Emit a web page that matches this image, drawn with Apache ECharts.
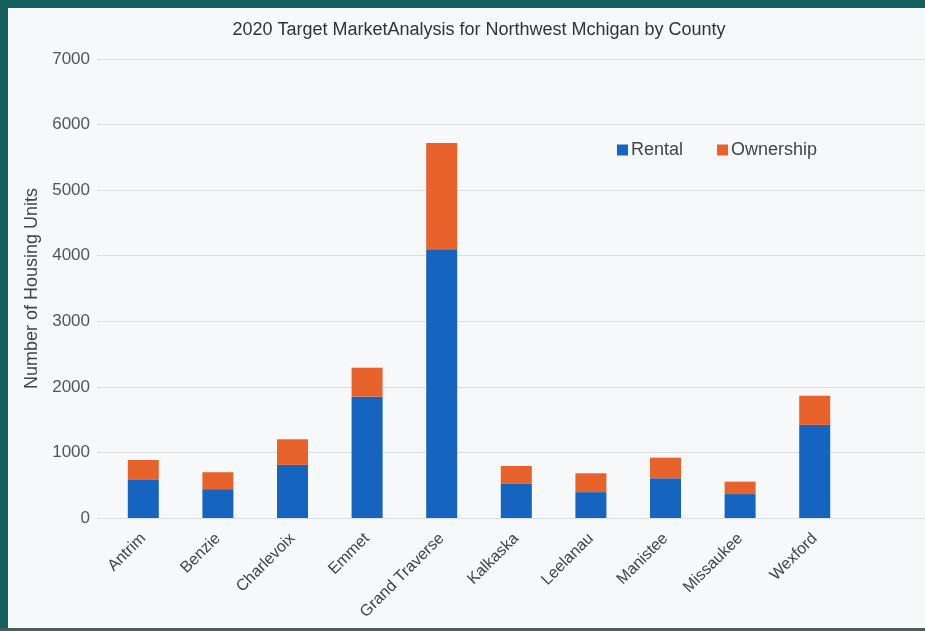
<!DOCTYPE html>
<html>
<head>
<meta charset="utf-8">
<script src="https://cdn.jsdelivr.net/npm/echarts@6/dist/echarts.min.js"></script>
<style>
html,body{margin:0;padding:0;background:#15605f;}
#frame{position:absolute;left:8px;top:8px;width:917px;height:620px;background:#f6f8fa;}
#bottomline{position:absolute;left:0;top:628px;width:925px;height:3px;background:#4a5a60;}
#chart{position:absolute;left:0;top:0;width:925px;height:631px;}
</style>
</head>
<body>
<div id="frame"></div>
<div id="bottomline"></div>
<div id="chart"></div>
<script>
const titleText = "2020 Target MarketAnalysis for Northwest Mchigan by County";
const categories = ["Antrim","Benzie","Charlevoix","Emmet","Grand Traverse","Kalkaska","Leelanau","Manistee","Missaukee","Wexford"];
const rental = [580, 440, 810, 1850, 4100, 520, 395, 605, 365, 1420];
const ownership = [305, 258, 390, 442, 1620, 273, 287, 315, 190, 445];
const yTicks = [0, 1000, 2000, 3000, 4000, 5000, 6000, 7000];
const seriesNames = ["Rental", "Ownership"];
const yAxisName = "Number of Housing Units";

const chart = echarts.init(document.getElementById('chart'), null, {renderer:'canvas'});
const font = "'Liberation Sans', Arial, sans-serif";
chart.setOption({
  backgroundColor: 'transparent',
  animation: false,
  title: {
    text: titleText, left: 474, top: 16, textAlign: 'center',
    textStyle: {fontFamily: font, fontSize: 18, fontWeight: 'normal', color: '#333'}
  },
  legend: {
    data: seriesNames, left: 612, top: 136, itemWidth: 11, itemHeight: 11, itemGap: 34,
    icon: 'rect',
    textStyle: {fontFamily: font, fontSize: 18, color: '#444', padding: [0,0,0,-2]}
  },
  grid: [
    {left: 106, right: 73, top: 59, bottom: 113},
    {left: 97, right: 0, top: 59, bottom: 113}
  ],
  xAxis: [
    {
      type: 'category', data: categories, gridIndex: 0,
      axisLine: {show: false}, axisTick: {show: false},
      axisLabel: {rotate: 45, interval: 0, margin: 18, fontFamily: font, fontSize: 16, color: '#444'}
    },
    {type: 'value', gridIndex: 1, min: 0, max: 1, show: false}
  ],
  yAxis: [
    {
      type: 'value', gridIndex: 0, min: yTicks[0], max: yTicks[yTicks.length-1], interval: 1000,
      name: yAxisName, nameLocation: 'middle', nameGap: 57,
      nameTextStyle: {fontFamily: font, fontSize: 18, color: '#444'},
      axisLine: {show: false}, axisTick: {show: false},
      splitLine: {show: false},
      axisLabel: {fontFamily: font, fontSize: 17, color: '#555', margin: 16,
                  formatter: v => String(v)}
    },
    {
      type: 'value', gridIndex: 1, min: 0, max: 7000, interval: 1000,
      axisLine: {show: false}, axisTick: {show: false}, axisLabel: {show: false},
      splitLine: {lineStyle: {color: '#dcdfe2', width: 1}}
    }
  ],
  series: [
    {name: seriesNames[0], type: 'bar', stack: 'a', data: rental, barWidth: 31,
     itemStyle: {color: '#1565c0'}},
    {name: seriesNames[1], type: 'bar', stack: 'a', data: ownership, barWidth: 31,
     itemStyle: {color: '#e8622c'}}
  ]
});
</script>
</body>
</html>
